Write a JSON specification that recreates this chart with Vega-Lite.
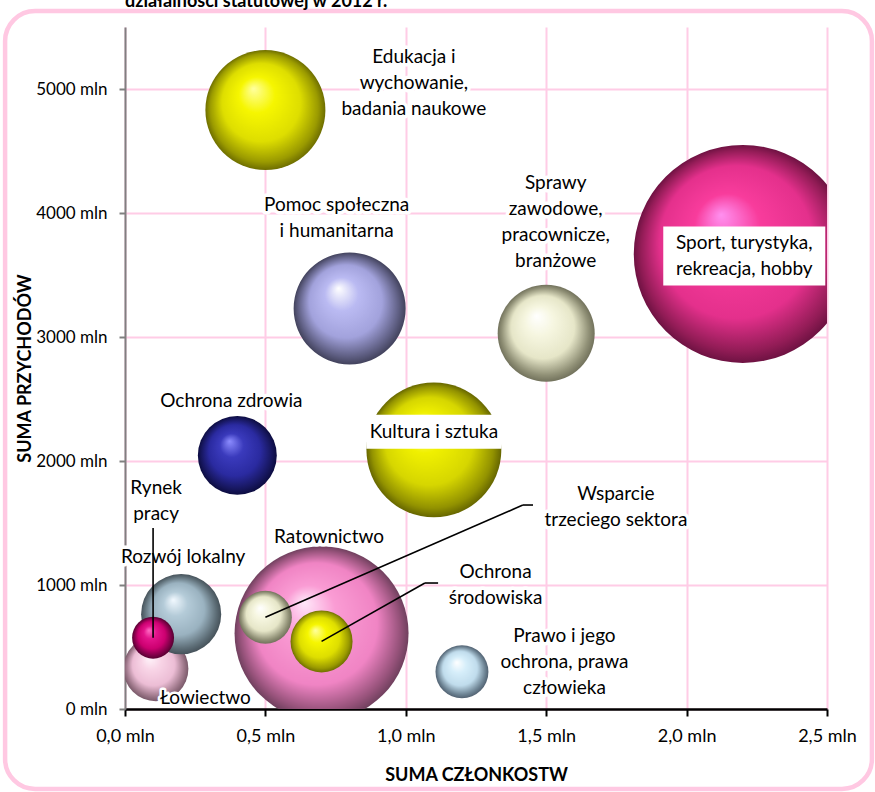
{
  "$schema": "https://vega.github.io/schema/vega-lite/v6.json",
  "width": 702,
  "height": 682,
  "autosize": {"type": "none"},
  "padding": {"left": 125, "top": 27, "right": 48, "bottom": 83},
  "background": "white",
  "config": {
    "font": "Lato",
    "view": {"stroke": null},
    "text": {"font": "Lato", "fontSize": 19, "lineHeight": 26, "lineBreak": "\n", "align": "center", "baseline": "middle", "color": "black"}
  },
  "title": {"text": "działalności statutowej w 2012 r.", "anchor": "start", "frame": "group", "fontSize": 18, "fontWeight": "bold", "font": "Lato", "offset": 2, "dy": 18, "baseline": "alphabetic", "color": "black"},
  "data": {
    "values": [
      {"id": "edukacja", "nazwa": "Edukacja i\nwychowanie,\nbadania naukowe", "czlonkostwo": 0.5, "przychody": 4830, "wielkosc": 30.3},
      {"id": "sport", "nazwa": "Sport, turystyka,\nrekreacja, hobby", "czlonkostwo": 2.2, "przychody": 3670, "wielkosc": 100},
      {"id": "pomoc", "nazwa": "Pomoc społeczna\ni humanitarna", "czlonkostwo": 0.8, "przychody": 3230, "wielkosc": 26.4},
      {"id": "sprawy", "nazwa": "Sprawy\nzawodowe,\npracownicze,\nbranżowe", "czlonkostwo": 1.5, "przychody": 3030, "wielkosc": 19.8},
      {"id": "zdrowie", "nazwa": "Ochrona zdrowia", "czlonkostwo": 0.4, "przychody": 2045, "wielkosc": 13.1},
      {"id": "kultura", "nazwa": "Kultura i sztuka", "czlonkostwo": 1.1, "przychody": 2090, "wielkosc": 38.3},
      {"id": "ratownictwo", "nazwa": "Ratownictwo", "czlonkostwo": 0.7, "przychody": 610, "wielkosc": 63.7},
      {"id": "rozwoj", "nazwa": "Rozwój lokalny", "czlonkostwo": 0.2, "przychody": 765, "wielkosc": 13.5},
      {"id": "rynek", "nazwa": "Rynek\npracy", "czlonkostwo": 0.1, "przychody": 575, "wielkosc": 3.7},
      {"id": "lowiectwo", "nazwa": "Łowiectwo", "czlonkostwo": 0.11, "przychody": 325, "wielkosc": 8.9},
      {"id": "wsparcie", "nazwa": "Wsparcie\ntrzeciego sektora", "czlonkostwo": 0.5, "przychody": 740, "wielkosc": 5.9},
      {"id": "srodowisko", "nazwa": "Ochrona\nśrodowiska", "czlonkostwo": 0.7, "przychody": 545, "wielkosc": 8.1},
      {"id": "prawo", "nazwa": "Prawo i jego\nochrona, prawa\nczłowieka", "czlonkostwo": 1.2, "przychody": 300, "wielkosc": 5.9}
    ]
  },
  "encoding": {
    "x": {
      "field": "czlonkostwo", "type": "quantitative",
      "scale": {"domain": [0, 2.5], "nice": false, "zero": true},
      "axis": {
        "title": "SUMA CZŁONKOSTW", "values": [0, 0.5, 1, 1.5, 2, 2.5], "labelFlush": false,
        "labelExpr": "replace(format(datum.value, '.1f'), '.', ',') + ' mln'",
        "labelFont": "Lato", "labelFontSize": 18, "labelColor": "black", "labelPadding": 11,
        "titleFont": "Lato", "titleFontSize": 18, "titleFontWeight": "bold", "titleColor": "black", "titlePadding": 21,
        "domainColor": "black", "domainWidth": 2.5, "tickColor": "black", "tickWidth": 2, "tickSize": 7,
        "grid": true, "gridColor": "#ffcce6", "gridWidth": 2
      }
    },
    "y": {
      "field": "przychody", "type": "quantitative",
      "scale": {"domain": [0, 5500], "nice": false, "zero": true},
      "axis": {
        "title": "SUMA PRZYCHODÓW", "values": [0, 1000, 2000, 3000, 4000, 5000], "labelFlush": false,
        "labelExpr": "datum.value == 0 ? '0  mln' : datum.value + ' mln'",
        "labelFont": "Lato", "labelFontSize": 17, "labelColor": "black", "labelPadding": 12,
        "titleFont": "Lato", "titleFontSize": 18, "titleFontWeight": "bold", "titleColor": "black", "titlePadding": 1,
        "domainColor": "#808080", "domainWidth": 2, "tickColor": "#808080", "tickWidth": 2, "tickSize": 6,
        "grid": true, "gridColor": "#ffcce6", "gridWidth": 2
      }
    }
  },
  "layer": [
    {
      "transform": [{"filter": "datum.id == 'sport'"}],
      "mark": {"type": "rect", "clip": false, "fill": "transparent", "stroke": "#ffc8e2", "strokeWidth": 4.5, "cornerRadius": 30},
      "encoding": {"x": {"datum": -0.427}, "x2": {"datum": 2.66}, "y": {"datum": 5629}, "y2": {"datum": -645}}
    },
    {
      "encoding": {"size": {"field": "wielkosc", "type": "quantitative", "scale": {"domain": [0, 100], "range": [0, 47524]}, "legend": null}},
      "layer": [
        {"transform": [{"filter": "datum.id == 'lowiectwo'"}], "mark": {"type": "circle", "clip": true, "opacity": 1, "fill": {"gradient": "radial", "x1": 0.4, "y1": 0.32, "r1": 0, "x2": 0.5, "y2": 0.5, "r2": 0.5, "stops": [{"offset": 0, "color": "#fff6fb"}, {"offset": 0.3, "color": "#f8d4e6"}, {"offset": 0.65, "color": "#ecbdd5"}, {"offset": 0.9, "color": "#9a7486"}, {"offset": 1, "color": "#7a5a6a"}]}}},
        {"transform": [{"filter": "datum.id == 'rozwoj'"}], "mark": {"type": "circle", "clip": true, "opacity": 1, "fill": {"gradient": "radial", "x1": 0.4, "y1": 0.32, "r1": 0, "x2": 0.5, "y2": 0.5, "r2": 0.5, "stops": [{"offset": 0, "color": "#f2f9ff"}, {"offset": 0.3, "color": "#b4cbd8"}, {"offset": 0.65, "color": "#9ab2c0"}, {"offset": 0.9, "color": "#5c6c75"}, {"offset": 1, "color": "#46525a"}]}}},
        {"transform": [{"filter": "datum.id == 'rynek'"}], "mark": {"type": "circle", "clip": true, "opacity": 1, "fill": {"gradient": "radial", "x1": 0.4, "y1": 0.32, "r1": 0, "x2": 0.5, "y2": 0.5, "r2": 0.5, "stops": [{"offset": 0, "color": "#ff6cc4"}, {"offset": 0.3, "color": "#e4148c"}, {"offset": 0.65, "color": "#cc0070"}, {"offset": 0.9, "color": "#780044"}, {"offset": 1, "color": "#560030"}]}}},
        {"transform": [{"filter": "datum.id == 'ratownictwo'"}], "mark": {"type": "circle", "clip": true, "opacity": 1, "fill": {"gradient": "radial", "x1": 0.4, "y1": 0.32, "r1": 0, "x2": 0.5, "y2": 0.5, "r2": 0.5, "stops": [{"offset": 0, "color": "#ffe8fa"}, {"offset": 0.3, "color": "#fa9cd4"}, {"offset": 0.7, "color": "#f084c4"}, {"offset": 0.92, "color": "#96527a"}, {"offset": 1, "color": "#70405e"}]}}},
        {"transform": [{"filter": "datum.id == 'wsparcie'"}], "mark": {"type": "circle", "clip": true, "opacity": 1, "fill": {"gradient": "radial", "x1": 0.4, "y1": 0.32, "r1": 0, "x2": 0.5, "y2": 0.5, "r2": 0.5, "stops": [{"offset": 0, "color": "#ffffff"}, {"offset": 0.3, "color": "#f6f6e0"}, {"offset": 0.65, "color": "#e6e6c8"}, {"offset": 0.9, "color": "#909076"}, {"offset": 1, "color": "#72725c"}]}}},
        {"transform": [{"filter": "datum.id == 'srodowisko'"}], "mark": {"type": "circle", "clip": true, "opacity": 1, "fill": {"gradient": "radial", "x1": 0.4, "y1": 0.32, "r1": 0, "x2": 0.5, "y2": 0.5, "r2": 0.5, "stops": [{"offset": 0, "color": "#ffffa0"}, {"offset": 0.3, "color": "#f6f600"}, {"offset": 0.65, "color": "#dede00"}, {"offset": 0.9, "color": "#9a9a00"}, {"offset": 1, "color": "#6e6e00"}]}}},
        {"transform": [{"filter": "datum.id == 'edukacja'"}], "mark": {"type": "circle", "clip": true, "opacity": 1, "fill": {"gradient": "radial", "x1": 0.4, "y1": 0.32, "r1": 0, "x2": 0.5, "y2": 0.5, "r2": 0.5, "stops": [{"offset": 0, "color": "#ffffa0"}, {"offset": 0.3, "color": "#f6f600"}, {"offset": 0.65, "color": "#dede00"}, {"offset": 0.9, "color": "#9a9a00"}, {"offset": 1, "color": "#6e6e00"}]}}},
        {"transform": [{"filter": "datum.id == 'sport'"}], "mark": {"type": "circle", "clip": true, "opacity": 1, "fill": {"gradient": "radial", "x1": 0.4, "y1": 0.32, "r1": 0, "x2": 0.5, "y2": 0.5, "r2": 0.5, "stops": [{"offset": 0, "color": "#ff90f0"}, {"offset": 0.3, "color": "#f83c9c"}, {"offset": 0.7, "color": "#e4308c"}, {"offset": 0.92, "color": "#921c56"}, {"offset": 1, "color": "#6e1242"}]}}},
        {"transform": [{"filter": "datum.id == 'pomoc'"}], "mark": {"type": "circle", "clip": true, "opacity": 1, "fill": {"gradient": "radial", "x1": 0.4, "y1": 0.32, "r1": 0, "x2": 0.5, "y2": 0.5, "r2": 0.5, "stops": [{"offset": 0, "color": "#ffffff"}, {"offset": 0.3, "color": "#babaf2"}, {"offset": 0.65, "color": "#a2a2dc"}, {"offset": 0.9, "color": "#5e5e82"}, {"offset": 1, "color": "#42425c"}]}}},
        {"transform": [{"filter": "datum.id == 'sprawy'"}], "mark": {"type": "circle", "clip": true, "opacity": 1, "fill": {"gradient": "radial", "x1": 0.4, "y1": 0.32, "r1": 0, "x2": 0.5, "y2": 0.5, "r2": 0.5, "stops": [{"offset": 0, "color": "#ffffff"}, {"offset": 0.3, "color": "#f6f6e0"}, {"offset": 0.65, "color": "#e6e6c8"}, {"offset": 0.9, "color": "#909076"}, {"offset": 1, "color": "#72725c"}]}}},
        {"transform": [{"filter": "datum.id == 'zdrowie'"}], "mark": {"type": "circle", "clip": true, "opacity": 1, "fill": {"gradient": "radial", "x1": 0.4, "y1": 0.32, "r1": 0, "x2": 0.5, "y2": 0.5, "r2": 0.5, "stops": [{"offset": 0, "color": "#8c8cff"}, {"offset": 0.3, "color": "#3a3abc"}, {"offset": 0.65, "color": "#2a2aa0"}, {"offset": 0.9, "color": "#16165c"}, {"offset": 1, "color": "#0c0c40"}]}}},
        {"transform": [{"filter": "datum.id == 'kultura'"}], "mark": {"type": "circle", "clip": true, "opacity": 1, "fill": {"gradient": "radial", "x1": 0.4, "y1": 0.32, "r1": 0, "x2": 0.5, "y2": 0.5, "r2": 0.5, "stops": [{"offset": 0, "color": "#ffffa0"}, {"offset": 0.3, "color": "#f0f000"}, {"offset": 0.65, "color": "#d6d600"}, {"offset": 0.9, "color": "#929200"}, {"offset": 1, "color": "#666600"}]}}},
        {"transform": [{"filter": "datum.id == 'prawo'"}], "mark": {"type": "circle", "clip": true, "opacity": 1, "fill": {"gradient": "radial", "x1": 0.4, "y1": 0.32, "r1": 0, "x2": 0.5, "y2": 0.5, "r2": 0.5, "stops": [{"offset": 0, "color": "#ffffff"}, {"offset": 0.3, "color": "#d6eefa"}, {"offset": 0.65, "color": "#c0dcec"}, {"offset": 0.9, "color": "#6c8292"}, {"offset": 1, "color": "#526272"}]}}}
      ]
    },
    {"transform": [{"filter": "datum.id == 'sport'"}], "mark": {"type": "point", "shape": "M-1,-0.364H1V0.364H-1Z", "size": 26244, "filled": true, "fill": "white", "opacity": 1, "strokeWidth": 0, "xOffset": 1.5, "yOffset": 2}},
    {"transform": [{"filter": "datum.id == 'kultura'"}], "mark": {"type": "point", "shape": "M-1,-0.252H1V0.252H-1Z", "size": 18225, "filled": true, "fill": "white", "opacity": 1, "strokeWidth": 0, "xOffset": 0, "yOffset": -18}},
    {
      "encoding": {"text": {"field": "nazwa", "type": "nominal"}},
      "layer": [
        {"transform": [{"filter": "datum.id == 'edukacja'"}], "layer": [
          {"mark": {"type": "text", "dx": 148.5, "dy": -53.5, "stroke": "white", "strokeWidth": 7, "strokeJoin": "round"}},
          {"mark": {"type": "text", "dx": 148.5, "dy": -53.5}}]},
        {"transform": [{"filter": "datum.id == 'sport'"}], "mark": {"type": "text", "dx": 1.5, "dy": -10.5}},
        {"transform": [{"filter": "datum.id == 'pomoc'"}], "layer": [
          {"mark": {"type": "text", "dx": -13, "dy": -103, "stroke": "white", "strokeWidth": 7, "strokeJoin": "round"}},
          {"mark": {"type": "text", "dx": -13, "dy": -103}}]},
        {"transform": [{"filter": "datum.id == 'sprawy'"}], "layer": [
          {"mark": {"type": "text", "dx": 9.5, "dy": -150.5, "stroke": "white", "strokeWidth": 7, "strokeJoin": "round"}},
          {"mark": {"type": "text", "dx": 9.5, "dy": -150.5}}]},
        {"transform": [{"filter": "datum.id == 'zdrowie'"}], "layer": [
          {"mark": {"type": "text", "dx": -6, "dy": -54.5, "stroke": "white", "strokeWidth": 7, "strokeJoin": "round"}},
          {"mark": {"type": "text", "dx": -6, "dy": -54.5}}]},
        {"transform": [{"filter": "datum.id == 'kultura'"}], "mark": {"type": "text", "dx": 0, "dy": -18}},
        {"transform": [{"filter": "datum.id == 'ratownictwo'"}], "layer": [
          {"mark": {"type": "text", "dx": 7.5, "dy": -96, "stroke": "white", "strokeWidth": 7, "strokeJoin": "round"}},
          {"mark": {"type": "text", "dx": 7.5, "dy": -96}}]},
        {"transform": [{"filter": "datum.id == 'rozwoj'"}], "layer": [
          {"mark": {"type": "text", "dx": 2, "dy": -57, "stroke": "white", "strokeWidth": 7, "strokeJoin": "round"}},
          {"mark": {"type": "text", "dx": 2, "dy": -57}}]},
        {"transform": [{"filter": "datum.id == 'rynek'"}], "layer": [
          {"mark": {"type": "text", "dx": 3, "dy": -149.5, "stroke": "white", "strokeWidth": 7, "strokeJoin": "round"}},
          {"mark": {"type": "text", "dx": 3, "dy": -149.5}}]},
        {"transform": [{"filter": "datum.id == 'lowiectwo'"}], "layer": [
          {"mark": {"type": "text", "dx": 49.5, "dy": 29, "stroke": "white", "strokeWidth": 5, "strokeJoin": "round"}},
          {"mark": {"type": "text", "dx": 49.5, "dy": 29}}]},
        {"transform": [{"filter": "datum.id == 'wsparcie'"}], "layer": [
          {"mark": {"type": "text", "dx": 350.5, "dy": -123.5, "stroke": "white", "strokeWidth": 7, "strokeJoin": "round"}},
          {"mark": {"type": "text", "dx": 350.5, "dy": -123.5}}]},
        {"transform": [{"filter": "datum.id == 'srodowisko'"}], "layer": [
          {"mark": {"type": "text", "dx": 174, "dy": -69.5, "stroke": "white", "strokeWidth": 7, "strokeJoin": "round"}},
          {"mark": {"type": "text", "dx": 174, "dy": -69.5}}]},
        {"transform": [{"filter": "datum.id == 'prawo'"}], "layer": [
          {"mark": {"type": "text", "dx": 102.5, "dy": -36, "stroke": "white", "strokeWidth": 7, "strokeJoin": "round"}},
          {"mark": {"type": "text", "dx": 102.5, "dy": -36}}]}
      ]
    },
    {"transform": [{"filter": "datum.id == 'rynek'"}], "mark": {"type": "rule", "color": "black", "strokeWidth": 1.6}, "encoding": {"y2": {"datum": 1460}}},
    {"transform": [{"filter": "datum.id == 'wsparcie'"}], "mark": {"type": "rule", "color": "black", "strokeWidth": 1.6}, "encoding": {"x2": {"datum": 1.417}, "y2": {"datum": 1645}}},
    {"transform": [{"filter": "datum.id == 'wsparcie'"}], "mark": {"type": "rule", "color": "black", "strokeWidth": 1.6}, "encoding": {"x": {"datum": 1.417}, "x2": {"datum": 1.453}, "y": {"datum": 1645}}},
    {"transform": [{"filter": "datum.id == 'srodowisko'"}], "mark": {"type": "rule", "color": "black", "strokeWidth": 1.6}, "encoding": {"x2": {"datum": 1.068}, "y2": {"datum": 1016}}},
    {"transform": [{"filter": "datum.id == 'srodowisko'"}], "mark": {"type": "rule", "color": "black", "strokeWidth": 1.6}, "encoding": {"x": {"datum": 1.068}, "x2": {"datum": 1.115}, "y": {"datum": 1016}}}
  ]
}
